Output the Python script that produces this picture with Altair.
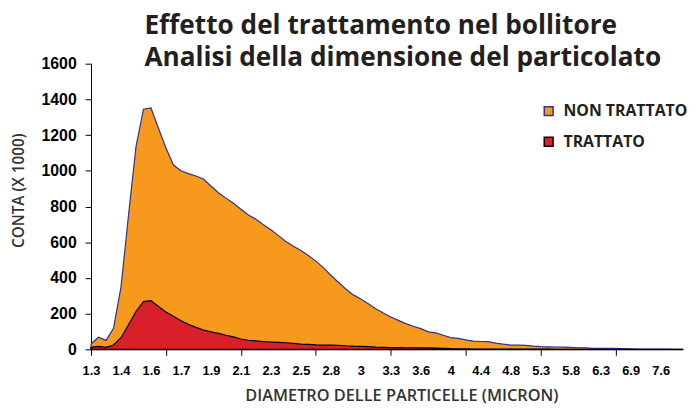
import altair as alt
import pandas as pd

x_labels = ["1.3", "1.4", "1.6", "1.7", "1.9", "2.1", "2.3", "2.5", "2.8", "3",
            "3.3", "3.6", "4", "4.4", "4.8", "5.3", "5.8", "6.3", "6.9", "7.6"]

non_trattato = [30, 68, 50, 118, 350, 750, 1135, 1345, 1352, 1238,
                1128, 1032, 1000, 984, 971, 954, 915, 877, 847, 818,
                785, 753, 729, 698, 670, 637, 604, 578, 554, 526,
                494, 458, 415, 376, 338, 305, 282, 255, 227, 203,
                181, 162, 144, 129, 116, 98, 92, 79, 66, 61,
                53, 46, 44, 43, 35, 29, 24, 24, 22, 18,
                15, 14, 13, 12, 11, 9, 8, 6, 6, 5,
                5, 4, 3, 2, 2, 1, 1, 1, 0, 0]

trattato = [11, 17, 11, 24, 65, 138, 212, 267, 273, 240,
            209, 185, 160, 140, 123, 108, 98, 89, 79, 70,
            58, 51, 47, 43, 41, 39, 37, 33, 29, 28,
            25, 24, 24, 23, 20, 18, 17, 15, 12, 11,
            10, 10, 9, 9, 8, 8, 7, 6, 4, 3,
            3, 2, 2, 2, 1, 1, 1, 1, 1, 1,
            1, 1, 0, 0, 0, 0, 0, 0, 0, 0,
            0, 0, 0, 0, 0, 0, 0, 0, 0, 0]

series_names = ["NON TRATTATO", "TRATTATO"]
fill_colors = ["#F7991D", "#D9202A"]
stroke_colors = ["#2E3192", "#000000"]

rows = []
for i, v in enumerate(non_trattato):
    rows.append({"i": i, "serie": series_names[0], "v": v})
for i, v in enumerate(trattato):
    rows.append({"i": i, "serie": series_names[1], "v": v})
df = pd.DataFrame(rows)

n = len(non_trattato)
label_js = "[" + ",".join("'" + s + "'" for s in x_labels) + "][round(datum.value/4)]"

xscale = alt.Scale(domain=[0, n - 1], nice=False, zero=False)
yscale = alt.Scale(domain=[0, 1600], nice=False)

y_axis = alt.Axis(values=list(range(0, 1601, 200)), format="d", grid=False,
                  domainColor="black", tickColor="black", tickSize=6,
                  labelFont="Liberation Sans", labelFontWeight="bold", labelFontSize=16,
                  labelColor="black", labelPadding=9, title="CONTA (X 1000)",
                  titleFont="Open Sans", titleFontWeight=600, titleFontSize=15.5,
                  titleColor="#333333", titleX=-73, titleY=128, titleBaseline="middle",
                  titleAlign="center")

legend = alt.Legend(title=None, orient="none", legendX=455, legendY=40,
                    symbolType="square", symbolSize=80, symbolStrokeWidth=1.5,
                    labelFont="Open Sans", labelFontWeight="bold", labelFontSize=16,
                    labelColor="#231F20", rowPadding=15, labelOffset=7)

color = alt.Color("serie:N", scale=alt.Scale(domain=series_names, range=fill_colors),
                  legend=legend)
stroke = alt.Stroke("serie:N", scale=alt.Scale(domain=series_names, range=stroke_colors),
                    legend=legend)

areas = alt.Chart(df).mark_area(strokeWidth=1.2, opacity=1).encode(
    x=alt.X("i:Q", scale=xscale,
            axis=alt.Axis(values=list(range(0, n, 4)), labelExpr=label_js, ticks=False,
                          grid=False, domainColor="black", labelFont="Liberation Sans",
                          labelFontWeight="bold", labelFontSize=13, labelColor="black",
                          labelPadding=15, labelFlush=False, labelOverlap=False,
                          title="DIAMETRO DELLE PARTICELLE (MICRON)", titleFont="Open Sans",
                          titleFontWeight=600, titleFontSize=16.5, titleColor="#333333",
                          titleX=314, titleY=52, titleBaseline="alphabetic",
                          titleAlign="center")),
    y=alt.Y("v:Q", scale=yscale, stack=None, axis=y_axis),
    color=color,
    stroke=stroke,
    order=alt.Order("serie:N"),
)

ticks_layer = alt.Chart(df).mark_area(opacity=0).encode(
    x=alt.X("i:Q", scale=xscale,
            axis=alt.Axis(values=list(range(0, n, 10)), labels=False, domain=False,
                          ticks=True, tickSize=6, tickColor="black", grid=False,
                          title=None, orient="bottom")),
    y=alt.Y("v:Q", scale=yscale, stack=None, axis=y_axis),
    detail="serie:N",
)

chart = alt.layer(areas, ticks_layer).resolve_scale(x="independent").resolve_axis(
    x="independent"
).properties(
    width=599,
    height=289,
    autosize=alt.AutoSizeParams(type="none"),
    padding={"left": 84, "top": 54, "right": 8, "bottom": 55},
    title=alt.TitleParams(
        text=["Effetto del trattamento nel bollitore",
              "Analisi della dimensione del particolato"],
        anchor="start", frame="group", dx=54, offset=-16, font="Open Sans",
        fontSize=26.5, fontWeight="bold", color="#231F20", lineHeight=33),
).configure_view(stroke=None)

chart.save("out.html", embed_options={"renderer": "svg", "actions": False})
